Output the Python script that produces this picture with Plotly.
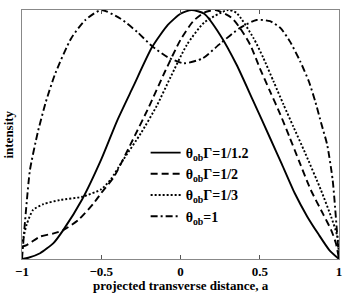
import plotly.graph_objects as go

# --- data ---
a_solid = [-1, -0.96, -0.886, -0.8, -0.74, -0.62, -0.5, -0.4, -0.3, -0.18, -0.08, 0.0, 0.07,
           0.15, 0.25, 0.354, 0.46, 0.565, 0.64, 0.72, 0.8, 0.87, 0.94, 1.0]
i_solid = [0, 0.005, 0.023, 0.065, 0.116, 0.24, 0.40, 0.555, 0.69, 0.85, 0.94, 0.985, 1.0,
           0.985, 0.9, 0.78, 0.633, 0.486, 0.38, 0.265, 0.17, 0.10, 0.035, 0]

a_dash = [-1, -0.97, -0.886, -0.8, -0.74, -0.644, -0.55, -0.5, -0.42, -0.3, -0.2, -0.1, 0.0,
          0.08, 0.15, 0.22, 0.32, 0.375, 0.44, 0.5, 0.565, 0.63, 0.69, 0.75, 0.82, 0.9, 0.95, 0.98, 1.0]
i_dash = [0.05, 0.056, 0.09, 0.103, 0.116, 0.157, 0.222, 0.265, 0.33, 0.48, 0.61, 0.75, 0.88,
          0.955, 0.99, 1.0, 0.97, 0.928, 0.86, 0.767, 0.673, 0.58, 0.486, 0.39, 0.28, 0.18, 0.117, 0.064, 0]

a_dot = [-1, -0.99, -0.97, -0.93, -0.865, -0.76, -0.62, -0.5, -0.44, -0.36, -0.25, -0.15, -0.063,
         0.04, 0.15, 0.3, 0.354, 0.46, 0.523, 0.587, 0.65, 0.713, 0.787, 0.886, 0.95, 0.99, 1.0]
i_dot = [0.07, 0.09, 0.14, 0.197, 0.22, 0.237, 0.25, 0.28, 0.32, 0.40, 0.505, 0.615, 0.73,
         0.86, 0.95, 1.0, 0.988, 0.888, 0.807, 0.713, 0.62, 0.53, 0.425, 0.277, 0.17, 0.09, 0]

a_dd = [-1, -0.985, -0.97, -0.95, -0.9, -0.85, -0.79, -0.69, -0.6, -0.5, -0.38, -0.27, -0.18, -0.08,
        0.02, 0.14, 0.25, 0.376, 0.48, 0.565, 0.63, 0.69, 0.755, 0.81, 0.85, 0.89, 0.925, 0.96, 1.0]
i_dd = [0, 0.12, 0.23, 0.357, 0.51, 0.63, 0.745, 0.886, 0.96, 1.0, 0.966, 0.91, 0.855, 0.81,
        0.786, 0.806, 0.865, 0.928, 0.96, 0.955, 0.928, 0.874, 0.794, 0.713, 0.633, 0.54, 0.46, 0.317, 0]

names = ["θ<sub>ob</sub>Γ=1/1.2", "θ<sub>ob</sub>Γ=1/2", "θ<sub>ob</sub>Γ=1/3", "θ<sub>ob</sub>=1"]
tick_vals = [-1, -0.5, 0, 0.5, 1]
tick_text = ["−1", "−0.5", "0", "0.5", "1"]

FONT = "Liberation Serif"

fig = go.Figure()
series = [(a_solid, i_solid, "solid"), (a_dash, i_dash, "7px,4px"),
          (a_dot, i_dot, "2px,2px"), (a_dd, i_dd, "7px,3px,2px,3px")]
for (x, y, dash), nm in zip(series, names):
    fig.add_trace(go.Scatter(x=x, y=y, mode="lines", name=nm,
                             line=dict(color="black", width=1.9, dash=dash, shape="spline", smoothing=0.6)))

fig.update_layout(
    width=346, height=294,
    margin=dict(l=22, r=7, t=10, b=35, autoexpand=False),
    paper_bgcolor="white", plot_bgcolor="white",
    font=dict(family=FONT, color="black", size=13),
    showlegend=True,
    legend=dict(x=0.39, y=0.49, xanchor="left", yanchor="top",
                bgcolor="rgba(0,0,0,0)", itemwidth=30,
                font=dict(family=FONT, size=14, color="black", weight="bold"),
                tracegroupgap=0),
    xaxis=dict(range=[-1, 1], tickvals=tick_vals, ticktext=tick_text,
               ticks="inside", ticklen=4, tickcolor="#555", mirror="ticks",
               showline=True, linecolor="#888", linewidth=1, showgrid=False, zeroline=False,
               ticklabeloverflow="allow", automargin=False,
               tickfont=dict(family=FONT, size=13, color="black", weight="bold")),
    yaxis=dict(range=[0, 1.0], showticklabels=False, ticks="", automargin=False,
               showline=True, linecolor="#888", linewidth=1, mirror=True,
               showgrid=False, zeroline=False),
    annotations=[
        dict(text="<b>projected transverse distance, a</b>", xref="paper", yref="paper",
             x=0.5, y=-0.106, xanchor="center", yanchor="middle", showarrow=False,
             font=dict(family=FONT, size=13, color="black")),
        dict(text="<b>intensity</b>", xref="paper", yref="paper", textangle=-90,
             x=-0.044, y=0.5, xanchor="center", yanchor="middle", showarrow=False,
             font=dict(family=FONT, size=13, color="black")),
    ],
)

fig.write_html("out.html", config={"displayModeBar": False},
               post_script="document.body.style.margin='0';document.body.style.overflow='hidden';")
